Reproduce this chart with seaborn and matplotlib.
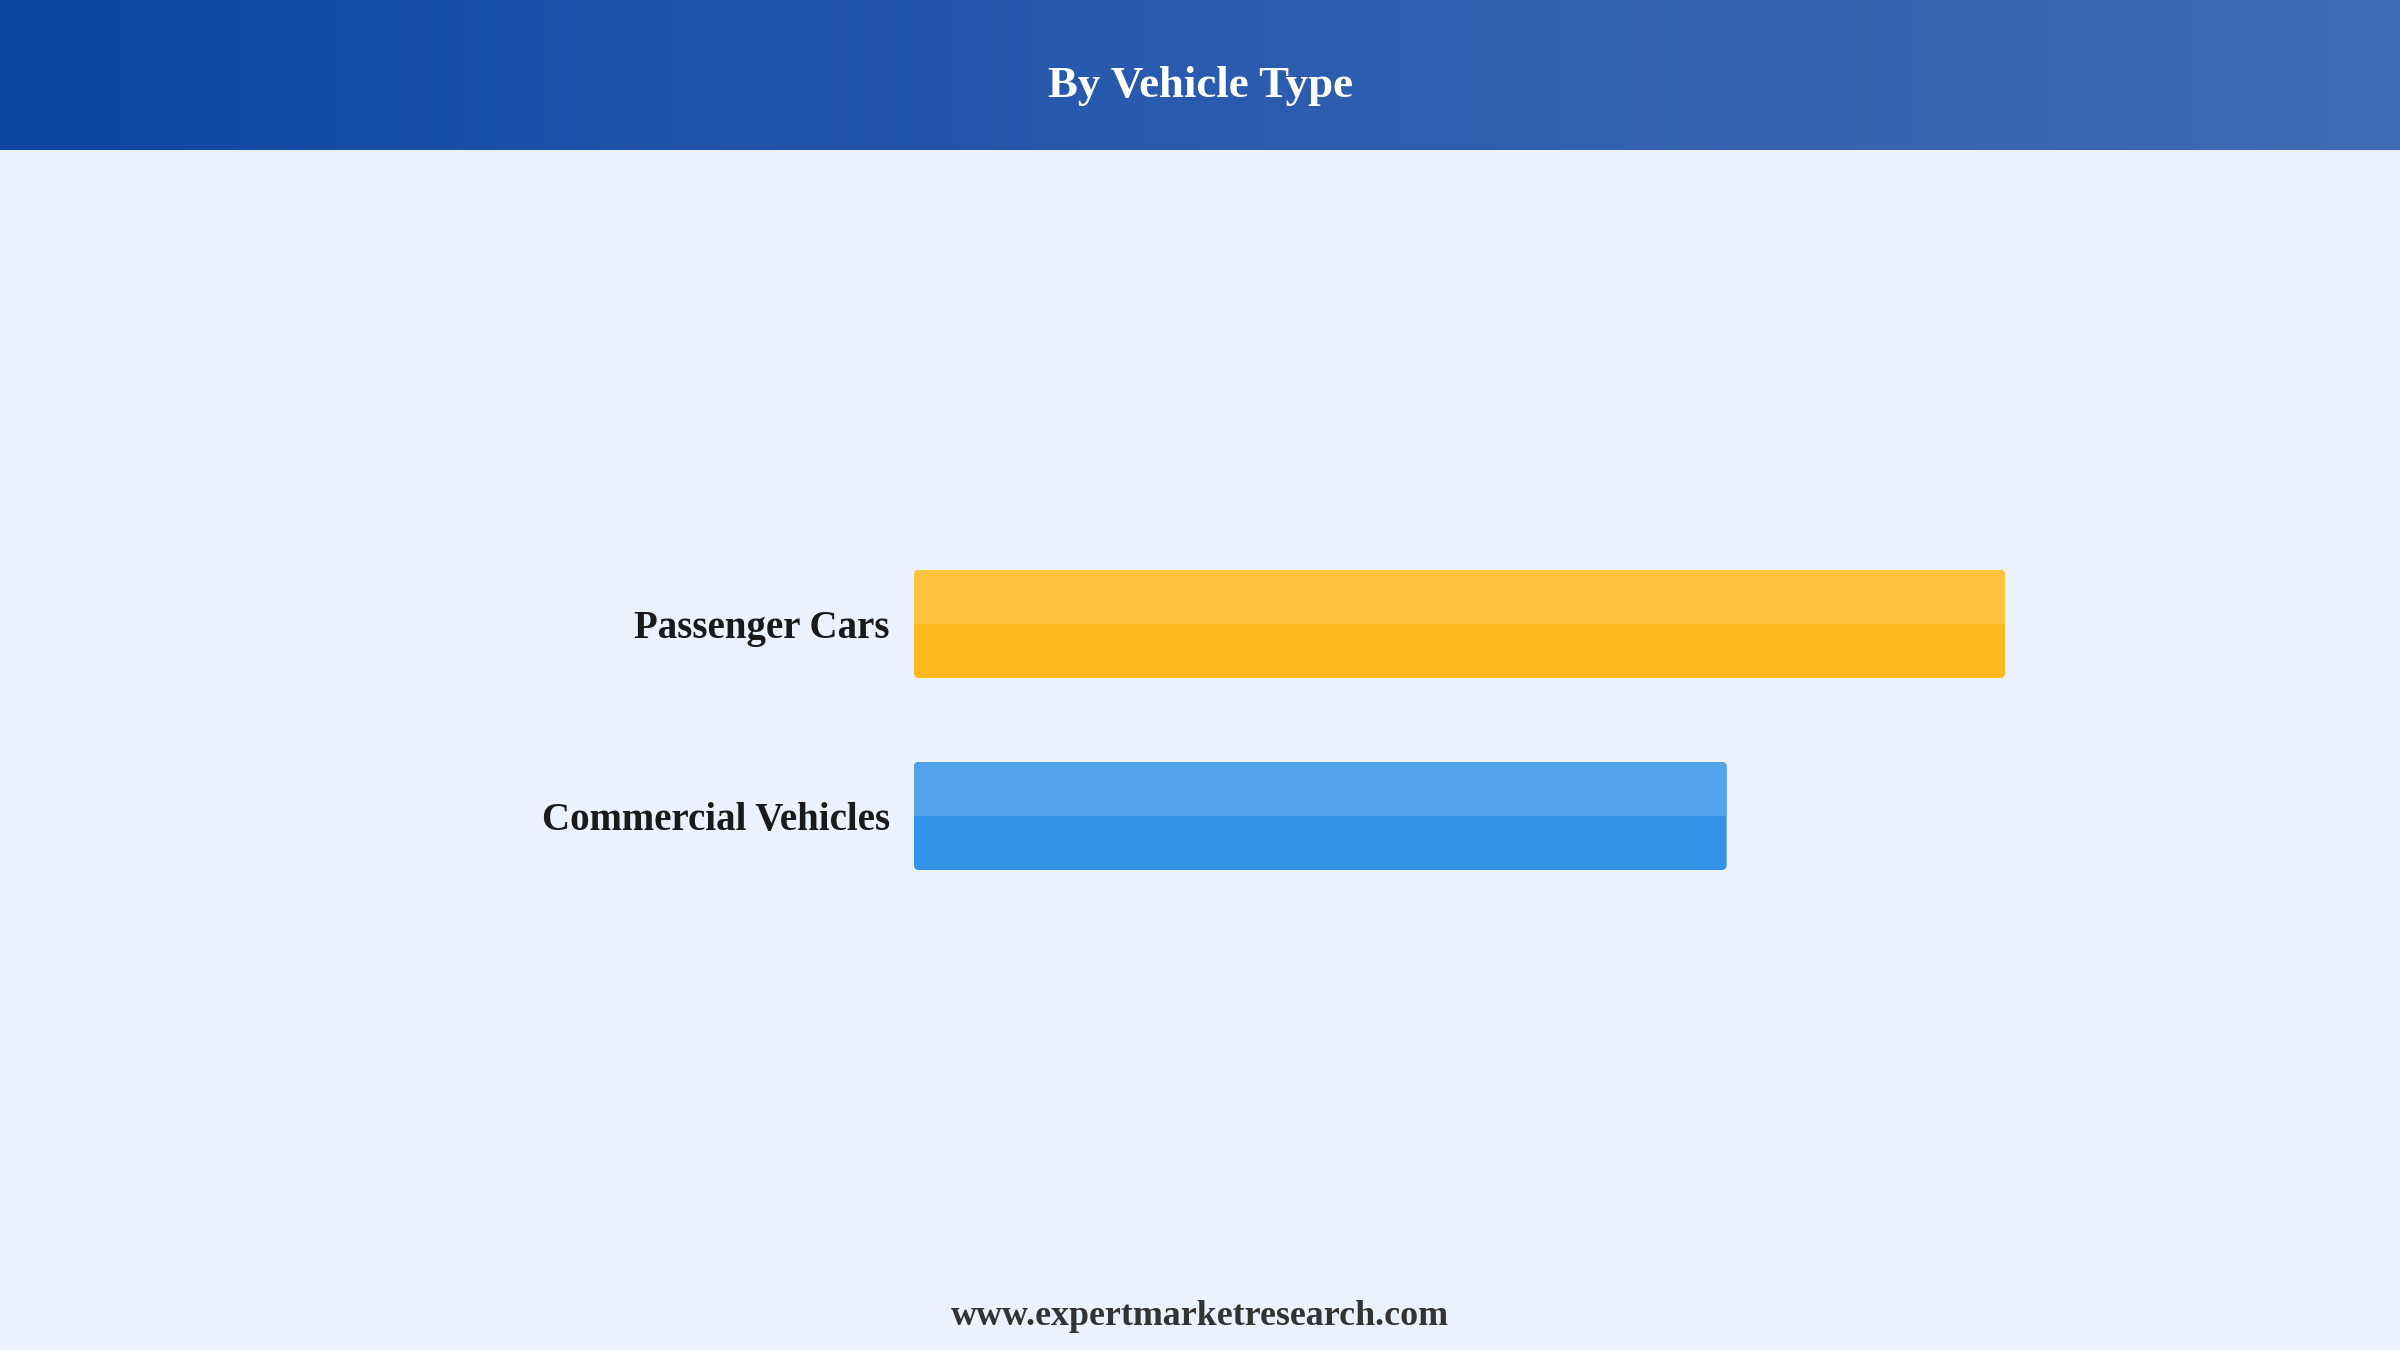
import numpy as np
import pandas as pd
import seaborn as sns
import matplotlib.pyplot as plt
from matplotlib.patches import FancyBboxPatch, Rectangle
from matplotlib.colors import LinearSegmentedColormap

# data
categories = ["Passenger Cars", "Commercial Vehicles"]
values = [58, 43.2]
base_colors = ["#FDB81E", "#3393E6"]
top_colors = ["#FFC33F", "#52A3EA"]

title = "By Vehicle Type"
footer = "www.expertmarketresearch.com"

sns.set_theme(style="white")
plt.rcParams["font.family"] = ["Liberation Serif", "DejaVu Serif"]

W, H = 2400, 1350
fig = plt.figure(figsize=(24, 13.5), dpi=100)
fig.patch.set_facecolor("#EBF2FB")

# header band with left-to-right gradient
hdr = fig.add_axes([0, 1 - 150 / H, 1, 150 / H])
grad = LinearSegmentedColormap.from_list("hdr", ["#0D47A1", "#2A5BAE", "#3E6DB5"])
hdr.imshow(np.linspace(0, 1, 512)[None, :], aspect="auto", cmap=grad, extent=[0, 1, 0, 1])
hdr.axis("off")
fig.text(0.5, 1 - 97 / H, title, ha="center", va="baseline", color="white",
         fontsize=32.3, fontweight="bold")

# bar area
ax_left, ax_right = 914, 2186
ax_top, ax_bot = 432, 1008
ax = fig.add_axes([ax_left / W, (H - ax_bot) / H, (ax_right - ax_left) / W, (ax_bot - ax_top) / H])
ax.set_facecolor("none")

df = pd.DataFrame({"category": categories, "value": values})
sns.barplot(data=df, x="value", y="category", hue="category", palette=base_colors,
            orient="h", width=0.5625, legend=False, ax=ax, saturation=1)

xmax = max(values) * (ax_right - ax_left) / 1091
ax.set_xlim(0, xmax)
ax.set_ylim(2, -1)

# rounded two-tone bars
x_per_px = xmax / (ax_right - ax_left)
y_per_px = 3 / (ax_bot - ax_top)
radius = 5 * x_per_px
for patch, c_base, c_top in zip(list(ax.patches), base_colors, top_colors):
    x0, y0 = patch.get_x(), patch.get_y()
    w, h = patch.get_width(), patch.get_height()
    patch.remove()
    body = FancyBboxPatch((x0, y0), w, h,
                          boxstyle=f"round,pad=0,rounding_size={radius}",
                          mutation_aspect=y_per_px / x_per_px,
                          facecolor=c_base, edgecolor="none", zorder=2)
    ax.add_patch(body)
    upper = Rectangle((x0, y0), w, h / 2, facecolor=c_top, edgecolor="none", zorder=3)
    ax.add_patch(upper)
    upper.set_clip_path(body)

sns.despine(ax=ax, left=True, bottom=True)
ax.set_xlabel("")
ax.set_ylabel("")
ax.set_xticks([])
ax.tick_params(axis="y", length=0, pad=17.3)
for lbl in ax.get_yticklabels():
    lbl.set_fontsize(28)
    lbl.set_fontweight("bold")
    lbl.set_color("#1A1A1A")

fig.text(0.5, 1 - 1325 / H, footer, ha="center", va="baseline", color="#333333",
         fontsize=25.8, fontweight="bold")

fig.savefig("out.png", dpi=100, facecolor=fig.get_facecolor())
